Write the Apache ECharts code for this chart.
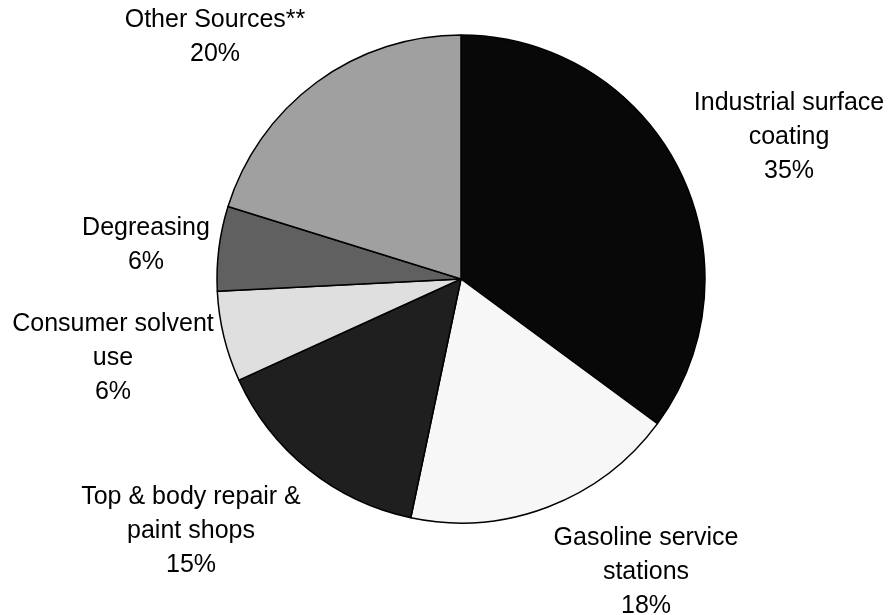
<!DOCTYPE html>
<html>
<head>
<meta charset="utf-8">
<script src="https://cdn.jsdelivr.net/npm/echarts@6/dist/echarts.min.js"></script>
<style>
html, body { margin: 0; padding: 0; background: #fff; }
#chart { width: 890px; height: 615px; }
</style>
</head>
<body>
<div id="chart"></div>
<script>
var categories = [
    'Industrial surface\ncoating',
    'Gasoline service\nstations',
    'Top & body repair &\npaint shops',
    'Consumer solvent\nuse',
    'Degreasing',
    'Other Sources**'
];
// slice sizes (labels show them rounded)
var shares = [35.1, 18.2, 14.9, 6.0, 5.6, 20.2];
var sliceColors = ['#080808', '#f7f7f7', '#1f1f1f', '#dfdfdf', '#606060', '#a0a0a0'];

// where each label block sits (centre of the text block)
var labelPos = [[789, 137], [646, 572], [191, 531], [113, 358], [146, 245], [215, 37]];

var data = categories.map(function (name, i) {
    return { name: name, value: shares[i], itemStyle: { color: sliceColors[i] } };
});

var chart = echarts.init(document.getElementById('chart'));
chart.setOption({
    animation: false,
    series: [{
        type: 'pie',
        silent: true,
        center: [461, 279],
        radius: 244,
        startAngle: 90,
        clockwise: true,
        avoidLabelOverlap: false,
        itemStyle: { borderColor: '#000', borderWidth: 1.5 },
        label: {
            show: true,
            position: 'outside',
            formatter: function (p) {
                return p.name + '\n' + Math.round(p.percent) + '%';
            },
            color: '#000',
            fontSize: 25,
            lineHeight: 34,
            fontFamily: 'Liberation Sans, Arial, sans-serif'
        },
        labelLine: { show: false },
        labelLayout: function (params) {
            var p = labelPos[params.dataIndex];
            return { x: p[0], y: p[1], align: 'center', verticalAlign: 'middle' };
        },
        data: data
    }]
});
</script>
</body>
</html>
